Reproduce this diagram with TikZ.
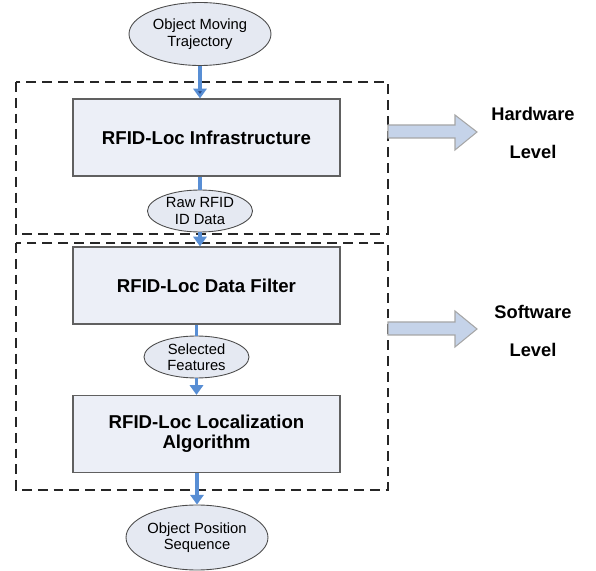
\documentclass[tikz,border=0pt]{standalone}
\usepackage{fontspec}
\setmainfont{Liberation Sans}
\usepackage{xcolor}
\usepackage{tikz}
\usetikzlibrary{arrows.meta}
\usetikzlibrary{shapes.geometric}

\definecolor{flowblue}{RGB}{88,142,212}
\definecolor{tipblue}{RGB}{40,70,130}
\definecolor{boxfill}{RGB}{236,239,247}
\definecolor{ovalfill}{RGB}{229,233,242}
\definecolor{levelfill}{RGB}{197,211,233}

\tikzset{
  stage/.style={draw=gray!75!black, fill=boxfill, line width=0.7pt, minimum width=5.34cm, minimum height=1.54cm, align=center, font=\fontsize{10.6}{11.5}\selectfont\bfseries},
  bigoval/.style={ellipse, draw=gray!60!black, fill=ovalfill, line width=0.5pt, inner sep=0pt, minimum width=2.84cm, minimum height=1.26cm, align=center, font=\fontsize{8.4}{9.4}\selectfont},
  smalloval/.style={bigoval, minimum width=2.1cm, minimum height=0.84cm},
  flow/.style={draw=flowblue, line width=1.8pt},
  flowtip/.style={flow, -{Triangle[length=5.5pt,width=7.5pt]}},
  level/.style={align=center, font=\fontsize{10.4}{22}\selectfont\bfseries},
  frame/.style={draw=black!85, line width=0.7pt, dash pattern=on 5.6pt off 3.4pt},
  levelarrow/.style={draw=gray!70, fill=levelfill, line width=0.6pt}
}

\begin{document}
\begin{tikzpicture}[x=0.02cm, y=-0.02cm]
\useasboundingbox (0,0) rectangle (596,571);
\draw[frame] (16,82) rectangle (388,234);
\draw[frame] (16,243) rectangle (388,490);

\node[bigoval] (traj) at (200,34) {Object Moving\\Trajectory};
\node[stage] (infra) at (206.5,137.5) {RFID-Loc Infrastructure};
\node[smalloval] (raw) at (200,211) {Raw RFID\\ID Data};
\node[stage] (filter) at (206.5,285.5) {RFID-Loc Data Filter};
\node[smalloval] (selected) at (196.5,357) {Selected\\Features};
\node[stage] (localize) at (206.5,434) {RFID-Loc Localization\\Algorithm};
\node[bigoval, minimum height=1.3cm] (position) at (197,537.5) {Object Position\\Sequence};

\draw[flowtip, -{Triangle[length=5.5pt,width=7.5pt,fill=tipblue]}] (traj.south) -- (traj.south |- infra.north);
\draw[flow] (raw.north |- infra.south) -- (raw.north);
\draw[flowtip] (raw.south) -- (raw.south |- filter.north);
\draw[flow] (selected.north |- filter.south) -- (selected.north);
\draw[flowtip] (selected.south) -- (selected.south |- localize.north);
\draw[flowtip] (position.north |- localize.south) -- (position.north);

\draw[levelarrow] (388,125) -- (455,125) -- (455,115) -- (477,132) -- (455,150) -- (455,138) -- (388,138) -- cycle;
\draw[levelarrow] (388,322) -- (455,322) -- (455,311) -- (477,329) -- (455,347) -- (455,335) -- (388,335) -- cycle;

\node[level] (hw) at (533,133) {Hardware\\Level};
\node[level] (sw) at (533,331) {Software\\Level};
\end{tikzpicture}
\end{document}
